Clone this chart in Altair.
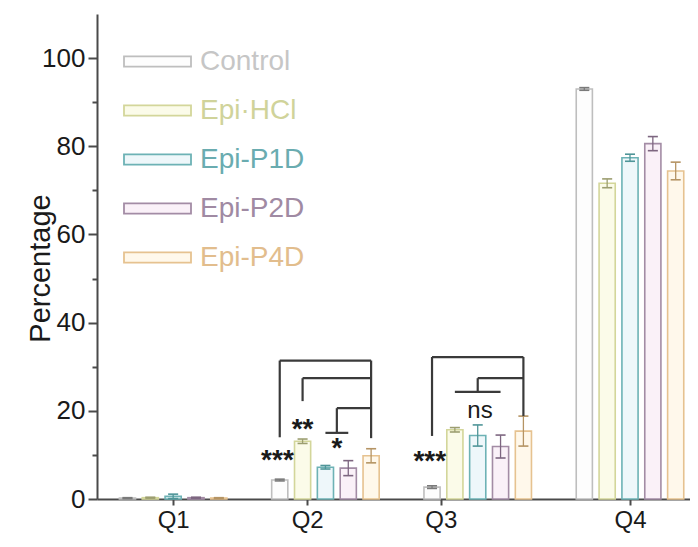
import altair as alt
import pandas as pd

# ---------------- data ----------------
series = ["Control", "Epi·HCl", "Epi-P1D", "Epi-P2D", "Epi-P4D"]
quarters = ["Q1", "Q2", "Q3", "Q4"]
quarter_tick_positions = [1.0, 1.88, 2.757, 4.0]

control_mean = [0.2, 4.3, 2.7, 93.0]
control_sd = [0.1, 0.2, 0.3, 0.3]
hcl_mean = [0.3, 13.1, 15.7, 71.6]
hcl_sd = [0.1, 0.5, 0.5, 1.0]
p1d_mean = [0.6, 7.2, 14.4, 77.4]
p1d_sd = [0.5, 0.4, 2.4, 0.8]
p2d_mean = [0.3, 7.0, 11.9, 80.6]
p2d_sd = [0.1, 1.7, 2.6, 1.6]
p4d_mean = [0.2, 9.8, 15.4, 74.4]
p4d_sd = [0.1, 1.6, 3.4, 2.0]

# significance brackets: (quarter idx, slot from, y from, slot to, y to)
bracket_quarter = [1, 1, 1, 1, 1, 1, 1, 1, 2, 2, 2, 2, 2, 2]
bracket_slot_a = [0, 0, 4, 1, 1, 2.5, 2.5, 2, 0, 0, 4, 2, 2, 1]
bracket_y_a = [14.0, 31.4, 13.8, 22.2, 27.4, 15.0, 20.6, 15.0, 14.3, 32.2, 18.8, 24.3, 27.4, 24.3]
bracket_slot_b = [0, 4, 4, 1, 4, 2.5, 4, 3, 0, 4, 4, 2, 4, 3]
bracket_y_b = [31.4, 31.4, 31.4, 27.4, 27.4, 20.6, 20.6, 15.0, 32.2, 32.2, 32.2, 27.4, 27.4, 24.3]

# significance labels
sig_text = ["***", "**", "*", "***", "ns"]
sig_quarter = [1, 1, 1, 2, 2]
sig_slot = [-0.1, 1, 2.5, -0.1, 2.1]
sig_y = [6.8, 13.8, 9.6, 6.6, 18.3]

# ---------------- styles ----------------
stroke_colors = ["#bebebe", "#d3d69a", "#6db2b5", "#a38ca5", "#e6c290"]
fill_colors = ["#fdfdfd", "#fbfbe9", "#eef7fa", "#faf1f8", "#fff8eb"]
err_colors = ["#7a7a7a", "#9c9e70", "#4f9598", "#7d6680", "#b59464"]
label_colors = ["#c6c6c6", "#d0d39a", "#6aacb0", "#a08aa3", "#e2bd8d"]

step = 0.15
half_w = 0.053
cap_half = 0.033


def xpos(q, slot):
    return (q + 1) + (slot - 2) * step


means = [control_mean, hcl_mean, p1d_mean, p2d_mean, p4d_mean]
sds = [control_sd, hcl_sd, p1d_sd, p2d_sd, p4d_sd]

rows, caps = [], []
for si, name in enumerate(series):
    for qi, q in enumerate(quarters):
        c = xpos(qi, si)
        m, s = means[si][qi], sds[si][qi]
        rows.append(dict(series=name, quarter=q, x=c - half_w, x2=c + half_w,
                         xc=c, y=m, lo=m - s, hi=m + s))
        for yv in (m - s, m + s):
            caps.append(dict(series=name, x=c - cap_half, x2=c + cap_half, y=yv))
bars_df = pd.DataFrame(rows)
caps_df = pd.DataFrame(caps)
err_df = bars_df.assign(x=bars_df["xc"], y=bars_df["lo"], y2=bars_df["hi"])

br_df = pd.DataFrame({
    "x": [xpos(q, s) for q, s in zip(bracket_quarter, bracket_slot_a)],
    "x2": [xpos(q, s) for q, s in zip(bracket_quarter, bracket_slot_b)],
    "y": bracket_y_a,
    "y2": bracket_y_b,
})
sig_df = pd.DataFrame({
    "x": [xpos(q, s) for q, s in zip(sig_quarter, sig_slot)],
    "y": sig_y,
    "t": sig_text,
    "star": [t != "ns" for t in sig_text],
})

FONT = "Liberation Sans"
xscale = alt.Scale(domain=[0.5, 4.394], nice=False, zero=False)
yscale = alt.Scale(domain=[0, 110], nice=False, zero=False)

xlabel_expr = "[" + ",".join(f"'{q}'" for q in quarters) + "][indexof([" + \
    ",".join(str(p) for p in quarter_tick_positions) + "], datum.value)]"
label_color_expr = " : ".join(
    f"datum.value === '{s}' ? '{c}'" for s, c in zip(series, label_colors)) + " : '#888'"

xaxis = alt.Axis(values=quarter_tick_positions, labelExpr=xlabel_expr, title="",
                 grid=False, tickSize=6, tickWidth=2, domainWidth=2,
                 domainColor="#4a4a4a", tickColor="#4a4a4a", labelFontSize=24,
                 labelColor="#1a1a1a", labelPadding=3, labelFont=FONT)
yaxis = alt.Axis(values=list(range(0, 101, 10)),
                 labelExpr="datum.value % 20 === 0 ? datum.label : ''",
                 tickSize={"expr": "datum.value % 20 === 0 ? 9 : 5"},
                 title="Percentage", titleFontSize=29, titleFontWeight="normal",
                 titleColor="#1a1a1a", titleFont=FONT, titleX=-57, titleY=254,
                 titleAngle=270, titleAlign="center", titleBaseline="middle",
                 labelFontSize=26, labelColor="#1a1a1a", labelFont=FONT,
                 labelPadding=3, domainColor="#4a4a4a", domainWidth=2,
                 tickColor="#4a4a4a", tickWidth=2, grid=False)

legend = alt.Legend(title=None, orient="none", legendX=26, legendY=13,
                    symbolType="M-1,-0.155L1,-0.155L1,0.155L-1,0.155Z",
                    symbolSize=4489, symbolStrokeWidth=1.8,
                    labelFontSize=28, labelFont=FONT, labelOffset=8,
                    rowPadding=-22.5, padding=0,
                    labelColor={"expr": label_color_expr})

X = alt.X("x:Q", scale=xscale, axis=xaxis)
Y = alt.Y("y:Q", scale=yscale, axis=yaxis)

bars = alt.Chart(bars_df).mark_rect(strokeWidth=1.6).encode(
    x=X, x2="x2:Q", y=Y, y2=alt.datum(0),
    fill=alt.Fill("series:N", scale=alt.Scale(domain=series, range=fill_colors), legend=legend),
    stroke=alt.Stroke("series:N", scale=alt.Scale(domain=series, range=stroke_colors), legend=legend),
)

errs = alt.Chart(err_df).mark_rule(strokeWidth=1.3).encode(
    x=X, y=Y, y2="y2:Q",
    color=alt.Color("series:N", scale=alt.Scale(domain=series, range=err_colors), legend=None),
)

capr = alt.Chart(caps_df).mark_rule(strokeWidth=1.6).encode(
    x=X, x2="x2:Q", y=Y,
    color=alt.Color("series:N", scale=alt.Scale(domain=series, range=err_colors), legend=None),
)

brackets = alt.Chart(br_df).mark_rule(strokeWidth=2.2, color="#3a3a3a").encode(
    x=X, x2="x2:Q", y=Y, y2="y2:Q",
)

stars = alt.Chart(sig_df).transform_filter("datum.star").mark_text(
    font=FONT, fontSize=28, fontWeight="bold", color="#1a1a1a",
    align="center", baseline="alphabetic").encode(x=X, y=Y, text="t:N")
ns = alt.Chart(sig_df).transform_filter("!datum.star").mark_text(
    font=FONT, fontSize=24, color="#1a1a1a",
    align="center", baseline="alphabetic").encode(x=X, y=Y, text="t:N")

chart = alt.layer(bars, errs, capr, brackets, stars, ns).properties(
    width=593, height=485, autosize="none",
    padding={"left": 89, "top": 6, "right": 0, "bottom": 36},
).configure(font=FONT, background="white").configure_view(stroke=None)

chart.save("out.html", embed_options={"renderer": "svg", "actions": False})
